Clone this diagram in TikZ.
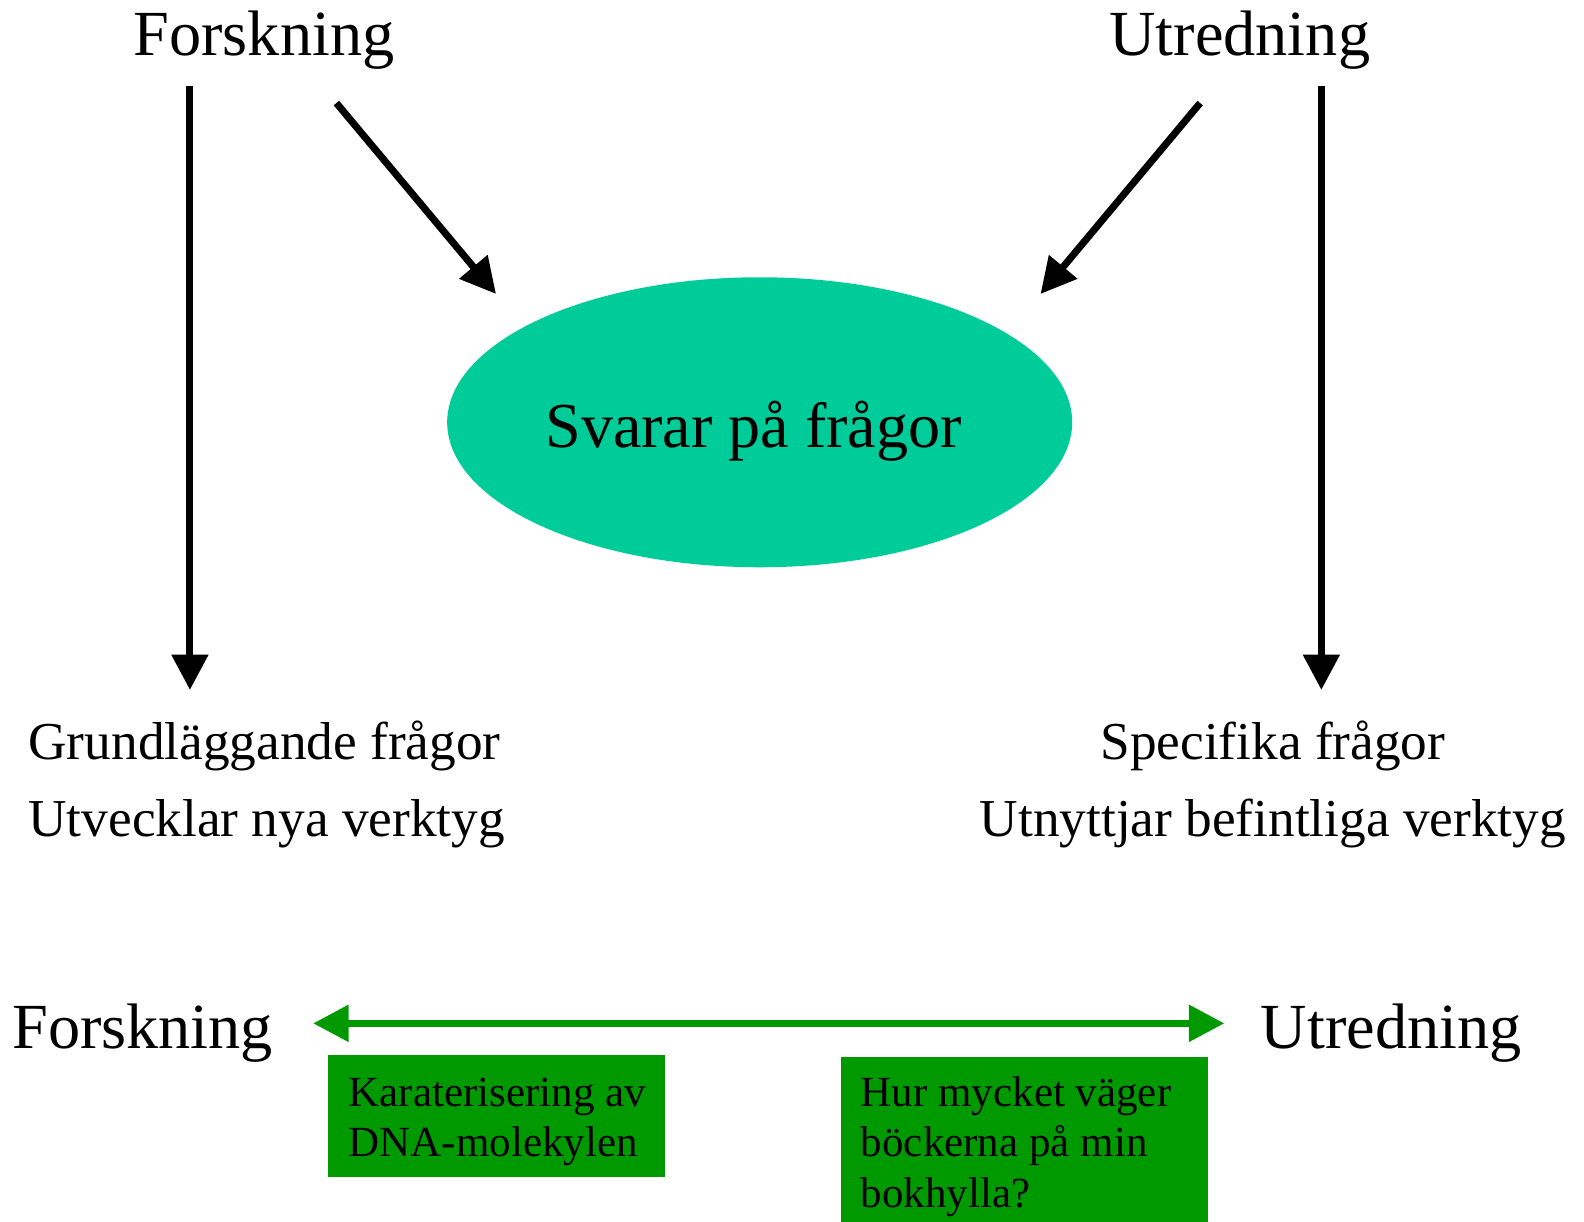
\documentclass[tikz,border=0pt]{standalone}
\usepackage{fontspec}
\setmainfont{Liberation Serif}
\usetikzlibrary{arrows.meta,shapes.geometric}
\definecolor{ellfill}{HTML}{00CC99}
\definecolor{boxgreen}{HTML}{009900}
\begin{document}
\begin{tikzpicture}[x=1.0102pt,y=-1.0102pt,
  bigtxt/.style={inner sep=0pt,anchor=base west,font=\fontsize{64.3}{76}\selectfont},
  midtxt/.style={inner sep=0pt,anchor=base west,font=\fontsize{53.3}{64}\selectfont},
  midtxtc/.style={inner sep=0pt,anchor=base,font=\fontsize{53.3}{64}\selectfont},
  boxtxt/.style={inner sep=0pt,anchor=base west,font=\fontsize{43}{51}\selectfont},
  blackarrow/.style={line width=7.1pt,-{Triangle[length=35.4pt,width=35.4pt]}},
  greenarrow/.style={draw=boxgreen,line width=7.1pt,{Triangle[length=35.4pt,width=35.4pt]}-{Triangle[length=35.4pt,width=35.4pt]}},
  gbox/.style={fill=boxgreen,draw=none}]
\useasboundingbox (0,0) rectangle (1568,1209.65);
% top labels
\node[bigtxt] (forsk) at (132,55) {Forskning};
\node[bigtxt] (utred) at (1098,55) {Utredning};
% ellipse
\node[ellipse,fill=ellfill,minimum width=625pt,minimum height=290pt,inner sep=0pt] (svar) at (752,418) {};
\node[inner sep=0pt,anchor=base,font=\fontsize{64.1}{76}\selectfont] (svartxt) at (746,443) {Svarar på frågor};
% arrow coordinates
\coordinate (lvs) at (188,85);
\coordinate (lve) at (188,683);
\coordinate (rvs) at (1308,85);
\coordinate (rve) at (1308,683);
\coordinate (lds) at (333,102);
\coordinate (lde) at (491,291);
\coordinate (rds) at (1188,102);
\coordinate (rde) at (1030,291);
\draw[blackarrow] (lvs) -- (lve);
\draw[blackarrow] (rvs) -- (rve);
\draw[blackarrow] (lds) -- (lde);
\draw[blackarrow] (rds) -- (rde);
% lower texts
\node[midtxt] (grund) at (28,752) {Grundläggande frågor};
\node[midtxt] (utveck) at (28,828) {Utvecklar nya verktyg};
\node[midtxtc] (spec) at (1260,752) {Specifika frågor};
\node[midtxtc] (utnytt) at (1260,828) {Utnyttjar befintliga verktyg};
% bottom scale
\node[bigtxt] (forsk2) at (12,1038) {Forskning};
\node[bigtxt] (utred2) at (1248,1038) {Utredning};
\coordinate (gl) at (310,1013);
\coordinate (gr) at (1212,1013);
\draw[greenarrow] (gl) -- (gr);
% boxes
\fill[gbox] (325,1044) rectangle (658,1165);
\fill[gbox] (832,1046) rectangle (1196,1210);
\node[boxtxt] (kar1) at (345,1095) {Karaterisering av};
\node[boxtxt] (kar2) at (345,1145) {DNA-molekylen};
\node[boxtxt] (hur1) at (852,1095) {Hur mycket väger};
\node[boxtxt] (hur2) at (852,1145) {böckerna på min};
\node[boxtxt] (hur3) at (852,1195) {bokhylla?};
\end{tikzpicture}
\end{document}
